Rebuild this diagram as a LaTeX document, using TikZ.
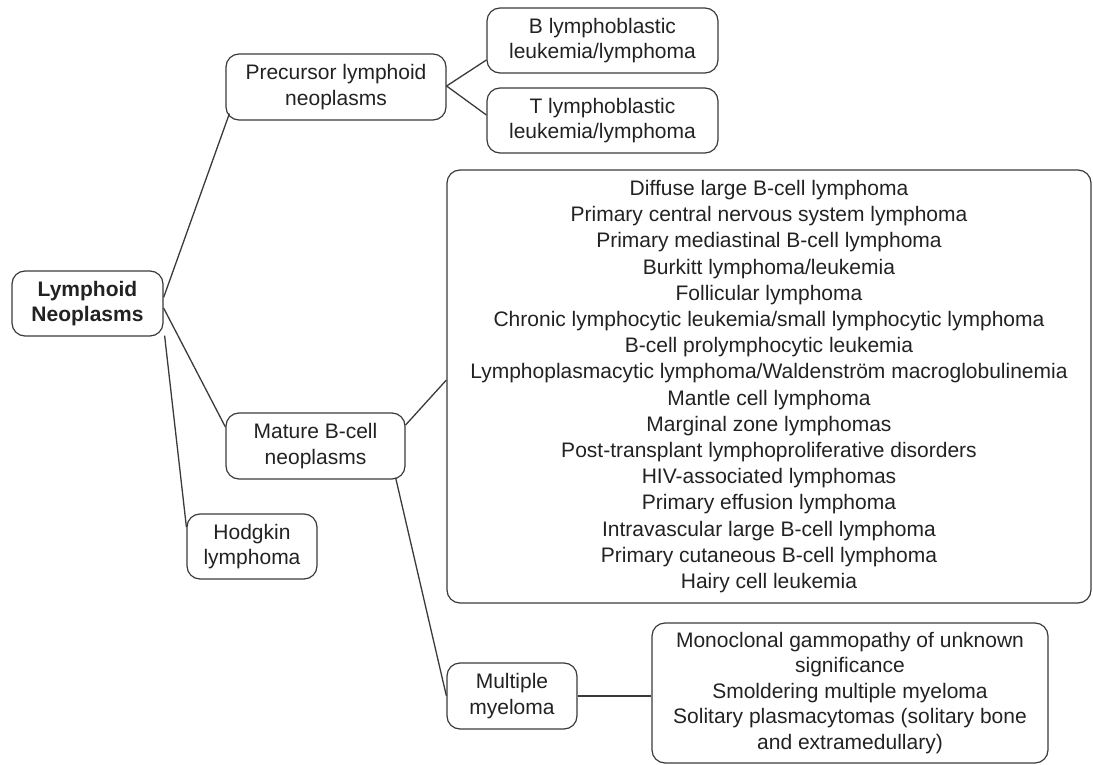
\documentclass[tikz,border=0pt]{standalone}
\usepackage{fontspec}
\setmainfont{Liberation Sans}
\definecolor{ink}{HTML}{222222}
\definecolor{edge}{HTML}{3A3A3A}
\begin{document}
\begin{tikzpicture}[x=1pt,y=-1pt,
  box/.style={draw=edge,line width=1.2pt,rounded corners=13pt,align=center,
    text=ink,inner sep=0pt,font=\fontsize{21}{25.5}\selectfont},
  link/.style={draw=edge,line width=1.3pt}]
\useasboundingbox (0,0) rectangle (1093,765);
\node[box,minimum width=151pt,minimum height=65pt,font=\fontsize{21}{25.5}\selectfont\bfseries] (root) at (87.5,303.5) {Lymphoid\\Neoplasms};
\node[box,minimum width=220pt,minimum height=66pt] (prec) at (336,87) {Precursor lymphoid\\neoplasms};
\node[box,minimum width=231pt,minimum height=65pt] (bl) at (602.5,40.5) {B lymphoblastic\\leukemia/lymphoma};
\node[box,minimum width=231pt,minimum height=65pt] (tl) at (602.5,120.5) {T lymphoblastic\\leukemia/lymphoma};
\node[box,minimum width=644pt,minimum height=433pt,font=\fontsize{21}{26.2}\selectfont] (big) at (769,386.5) {Diffuse large B-cell lymphoma\\
Primary central nervous system lymphoma\\
Primary mediastinal B-cell lymphoma\\
Burkitt lymphoma/leukemia\\
Follicular lymphoma\\
Chronic lymphocytic leukemia/small lymphocytic lymphoma\\
B-cell prolymphocytic leukemia\\
Lymphoplasmacytic lymphoma/Waldenström macroglobulinemia\\
Mantle cell lymphoma\\
Marginal zone lymphomas\\
Post-transplant lymphoproliferative disorders\\
HIV-associated lymphomas\\
Primary effusion lymphoma\\
Intravascular large B-cell lymphoma\\
Primary cutaneous B-cell lymphoma\\
Hairy cell leukemia};
\node[box,minimum width=179pt,minimum height=66pt] (mat) at (315.5,446) {Mature B-cell\\neoplasms};
\node[box,minimum width=130pt,minimum height=65pt] (hod) at (252,546.5) {Hodgkin\\lymphoma};
\node[box,minimum width=130pt,minimum height=66pt] (mm) at (512,696) {Multiple\\myeloma};
\node[box,minimum width=396pt,minimum height=140pt] (mmi) at (850,693) {Monoclonal gammopathy of unknown\\significance\\Smoldering multiple myeloma\\Solitary plasmacytomas (solitary bone\\and extramedullary)};
\draw[link] ([yshift=6pt]root.east) -- ([xshift=4pt,yshift=7pt]prec.south west);
\draw[link] ([yshift=-4.5pt]root.east) -- ([yshift=19pt]mat.west);
\draw[link] ([xshift=1pt,yshift=1pt]root.south east) -- ([yshift=19.5pt]hod.west);
\draw[link] ([yshift=1pt]prec.east) -- ([yshift=-19.5pt]bl.west);
\draw[link] ([yshift=1pt]prec.east) -- ([yshift=5.5pt]tl.west);
\draw[link] ([yshift=21pt]mat.east) -- ([yshift=6.5pt]big.west);
\draw[link] ([xshift=-10pt,yshift=2pt]mat.south east) -- (mm.west);
\draw[link] (mm.east) -- (mm.east -| mmi.west);
\end{tikzpicture}
\end{document}
